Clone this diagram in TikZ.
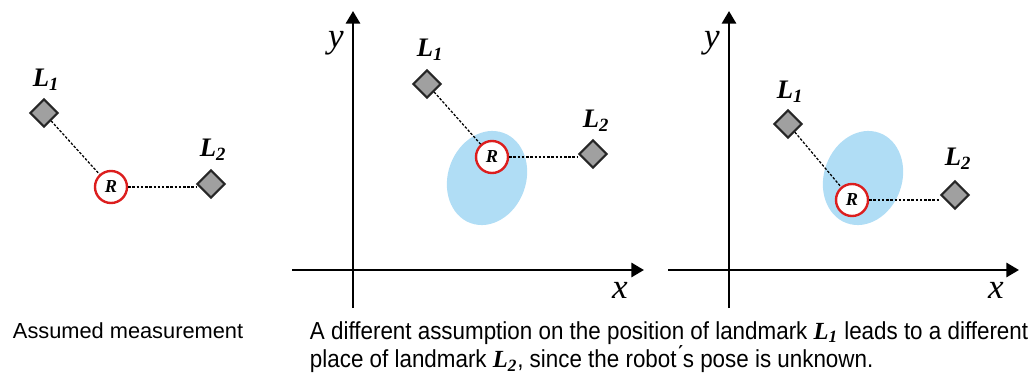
\documentclass[tikz,border=0pt]{standalone}
\usepackage{fontspec}
\setmainfont{Liberation Sans}
\newfontfamily\lserif{Liberation Serif}
\newfontfamily\narrowsans[FakeStretch=0.91]{Liberation Sans}
\usepackage{tikz}
\usetikzlibrary{shapes.geometric,arrows.meta,positioning}
\definecolor{posegrey}{RGB}{160,160,160}
\definecolor{poseblue}{RGB}{176,221,245}
\definecolor{robotred}{RGB}{220,30,30}

\tikzset{
  landmark/.style={diamond, draw=black!85, fill=posegrey, line width=1.5pt, inner sep=0pt, minimum size=0.7cm},
  robot/.style={circle, draw=robotred, fill=white, line width=1.7pt, inner sep=0pt, minimum size=0.8cm, font=\lserif\bfseries\itshape\fontsize{13}{13}\selectfont},
  lmlabel/.style={font=\lserif\bfseries\itshape\fontsize{19}{19}\selectfont},
  axislabel/.style={font=\lserif\itshape\fontsize{25}{25}\selectfont},
  axis/.style={line width=2pt, -{Triangle[length=9pt,width=10pt]}},
  meas/.style={line width=0.9pt, dash pattern=on 1.8pt off 1.2pt},
  caption/.style={font=\fontsize{15.5}{20}\selectfont, anchor=west, align=left}
}
\newcommand{\lm}[1]{L\textsubscript{#1}}

\begin{document}
\begin{tikzpicture}[x=0.025cm, y=-0.025cm]
\useasboundingbox (0,0) rectangle (1030,374);
% Assumed measurement
\node[landmark] (a1) at (44,113) {};
\node[landmark] (a2) at (211,184) {};
\node[robot] (ar) at (111,187) {R};
\node[lmlabel] at (46,80) {\lm{1}};
\node[lmlabel] at (213,150) {\lm{2}};
\draw[meas] (a1) -- (ar);
\draw[meas] (ar) -- (ar -| a2.west);
\node[caption] at (8,331) {Assumed measurement};
% first alternative
\draw[axis] (292,270) -- (644,270);
\draw[axis] (353,308) -- (353,11);
\node[axislabel] at (336,43) {y};
\node[axislabel] at (620,290) {x};
\fill[poseblue, rotate around={-20:(487,178)}] (487,178) ellipse (39 and 48);
\node[landmark] (b1) at (427,84) {};
\node[landmark] (b2) at (593,154) {};
\node[robot] (br) at (492,157) {R};
\node[lmlabel] at (430,50) {\lm{1}};
\node[lmlabel] at (596,121) {\lm{2}};
\draw[meas] (b1) -- (br);
\draw[meas] (br) -- (br -| b2.west);
% second alternative
\draw[axis] (668,270) -- (1019,270);
\draw[axis] (729,308) -- (729,11);
\node[axislabel] at (712,43) {y};
\node[axislabel] at (996,290) {x};
\fill[poseblue, rotate around={-20:(863,178)}] (863,178) ellipse (39 and 48);
\node[landmark] (c1) at (788,124) {};
\node[landmark] (c2) at (955,195) {};
\node[robot] (cr) at (852,200) {R};
\node[lmlabel] at (790,92) {\lm{1}};
\node[lmlabel] at (958,159) {\lm{2}};
\draw[meas] (c1) -- (cr);
\draw[meas] (cr) -- (cr -| c2.west);
\node[caption, font=\narrowsans\fontsize{17.5}{18.5}\selectfont] at (305,347) {A different assumption on the position of landmark {\lserif\bfseries\itshape\lm{1}} leads to a different\\place of landmark {\lserif\bfseries\itshape\lm{2}}, since the robot\'{}s pose is unknown.};
\end{tikzpicture}
\end{document}
